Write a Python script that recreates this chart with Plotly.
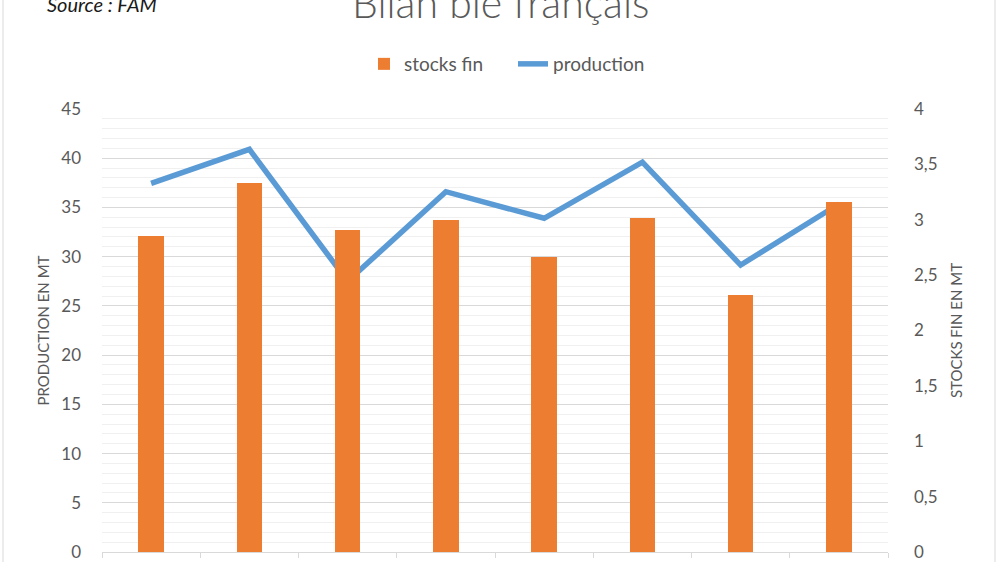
import plotly.graph_objects as go

# Data
categories = ["C1", "C2", "C3", "C4", "C5", "C6", "C7", "C8"]
stocks_fin = [2.85, 3.33, 2.91, 3.00, 2.66, 3.02, 2.32, 3.16]
production = [37.45, 40.9, 27.5, 36.6, 33.9, 39.6, 29.15, 35.35]
left_ticks = [0, 5, 10, 15, 20, 25, 30, 35, 40, 45]
right_ticks = [0, 0.5, 1, 1.5, 2, 2.5, 3, 3.5, 4]
right_tick_text = ["0", "0,5", "1", "1,5", "2", "2,5", "3", "3,5", "4"]

FONT = "Lato"
GREY = "#595959"

fig = go.Figure()
fig.add_trace(go.Bar(
    x=categories, y=stocks_fin, name="stocks fin", yaxis="y2",
    marker=dict(color="#ED7D31", line=dict(width=0)), width=0.26,
))
fig.add_trace(go.Scatter(
    x=categories, y=production, name="production", mode="lines",
    line=dict(color="#5B9BD5", width=5.5), yaxis="y",
))

L, R, T, B = 102, 112, 109, 10
W, H = 1000, 562
pw, ph = W - L - R, H - T - B

fig.update_layout(
    width=W, height=H,
    margin=dict(l=L, r=R, t=T, b=B, autoexpand=False),
    paper_bgcolor="white", plot_bgcolor="white",
    font=dict(family=FONT, color=GREY, size=17),
    showlegend=True,
    legend=dict(orientation="h", x=(364 - L) / pw, xanchor="left",
                y=1 + (T - 64) / ph, yanchor="middle",
                font=dict(size=19, color=GREY), traceorder="normal",
                entrywidth=104, entrywidthmode="pixels",
                bgcolor="rgba(0,0,0,0)"),
    bargap=0,
    xaxis=dict(type="category", showticklabels=False, ticks="outside",
               tickson="boundaries", ticklen=5, tickcolor="#d9d9d9",
               showline=True, linecolor="#d9d9d9", linewidth=1,
               showgrid=False, zeroline=False, range=[-0.5, 7.5]),
    yaxis=dict(range=[0, 45], tickvals=left_ticks, showline=False,
               gridcolor="#d9d9d9", gridwidth=1, zeroline=False,
               minor=dict(dtick=1, showgrid=True, gridcolor="#f0f0f0", gridwidth=1),
               tickfont=dict(size=17, color=GREY), ticklabelstandoff=20,
               title=dict(text="PRODUCTION EN MT", font=dict(size=15, color=GREY), standoff=8)),
    yaxis2=dict(range=[0, 4], tickvals=right_ticks, ticktext=right_tick_text,
                overlaying="y", side="right", showgrid=False, zeroline=False,
                showline=False, tickfont=dict(size=17, color=GREY),
                ticklabelstandoff=25,
                title=dict(text="STOCKS FIN EN MT", font=dict(size=15, color=GREY), standoff=14)),
)

# Title (partially cut at the top of the frame, as in the reference)
fig.add_annotation(text="Bilan blé français", xref="paper", yref="paper",
                   x=0.5 + (500 - (L + pw / 2)) / pw, y=1, xanchor="center", yanchor="middle",
                   yshift=T - 2, showarrow=False,
                   font=dict(family=FONT, size=41, color=GREY, weight=300))
fig.add_annotation(text="<i>Source : FAM</i>", xref="paper", yref="paper",
                   x=(45 - L) / pw, y=1, xanchor="left", yanchor="middle",
                   yshift=T - 4, showarrow=False,
                   font=dict(family=FONT, size=20, color="#1a1a1a"))

# Chart frame edges
for xpx in (3, 995):
    fig.add_shape(type="line", xref="paper", yref="paper",
                  x0=(xpx - L) / pw, x1=(xpx - L) / pw, y0=-B / ph, y1=1 + T / ph,
                  line=dict(color="#d9d9d9", width=1))

fig.write_html("out.html", config={"displayModeBar": False},
               post_script="document.body.style.margin='0';document.body.style.overflow='hidden';")
